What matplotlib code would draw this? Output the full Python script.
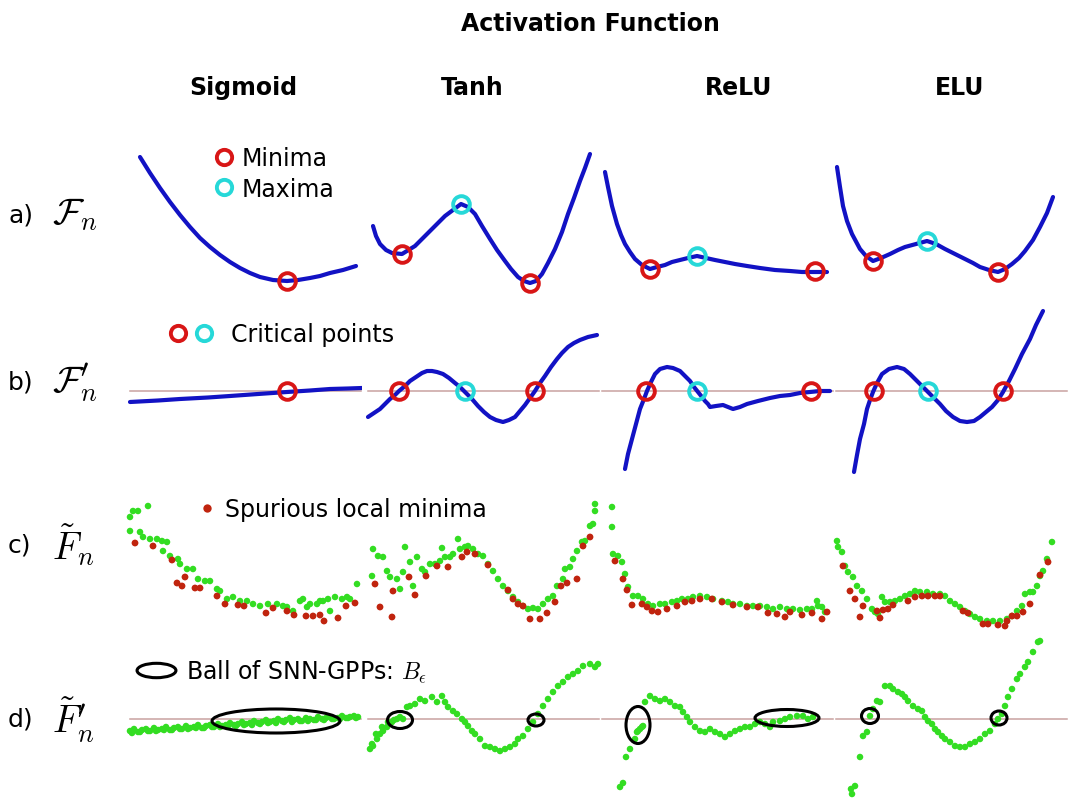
import matplotlib
matplotlib.use("Agg")
import matplotlib.pyplot as plt
from matplotlib.lines import Line2D
from matplotlib.patches import Ellipse
from matplotlib.legend_handler import HandlerTuple
from matplotlib.path import Path
from matplotlib.transforms import Affine2D

plt.rcParams["font.family"] = ["DejaVu Sans"]
plt.rcParams["mathtext.fontset"] = "cm"

W, H = 1076, 804
BLUE = "#1212c4"
RED = "#d81616"
CYAN = "#26d8d8"
GREEN = "#33dd22"
DRED = "#c0240e"
ZERO = "#c9a2a0"

COLUMNS = ["Sigmoid", "Tanh", "ReLU", "ELU"]
ROW_TAGS = ["a)", "b)", "c)", "d)"]
ROW_MATH = [r"$\mathcal{F}_n$", r"$\mathcal{F}^{\prime}_n$", r"$\tilde{F}_n$", r"$\tilde{F}^{\prime}_n$"]

# ---- row a: population risk F_n (curves + minima / maxima)
SIG_F_X = [12, 22, 32, 42, 52, 62, 72, 82, 92, 102, 112, 122, 132, 145, 159, 170, 182, 192, 202, 215, 228]
SIG_F_Y = [142, 126, 111, 97, 84, 72, 61, 52, 44, 37, 31, 26, 22, 19, 18, 19, 21, 23, 26, 29, 33]
SIG_F_MIN = ([159], [18])
SIG_F_MAX = ([], [])

TANH_F_X = [7, 10, 14, 20, 26, 36, 49, 64, 79, 95, 102, 109, 116, 124, 131, 139, 145, 152, 158, 164, 170, 176, 182, 189, 196, 202, 208, 214, 219, 224]
TANH_F_Y = [73, 63, 55, 49, 46, 45, 53, 68, 83, 95, 92, 85, 73, 60, 49, 38, 30, 22, 18, 16, 18, 25, 36, 50, 67, 85, 101, 118, 131, 145]
TANH_F_MIN = ([36, 164], [45, 16])
TANH_F_MAX = ([95], [95])

RELU_F_X = [5, 8, 12, 17, 21, 25, 30, 35, 42, 50, 57, 65, 72, 80, 88, 97, 106, 115, 125, 135, 147, 160, 175, 190, 202, 213, 227]
RELU_F_Y = [127, 112, 93, 75, 64, 55, 47, 40, 34, 30, 32, 34, 37, 39, 41, 43, 41, 39, 37, 35, 33, 31, 29, 28, 27, 27, 27]
RELU_F_MIN = ([50, 215], [30, 28])
RELU_F_MAX = ([97], [43])

ELU_F_X = [3, 6, 9, 13, 18, 26, 32, 39, 47, 56, 64, 71, 82, 93, 102, 111, 121, 131, 139, 146, 155, 164, 171, 178, 185, 191, 199, 206, 213, 219]
ELU_F_Y = [132, 112, 93, 78, 65, 50, 43, 38, 41, 45, 49, 52, 55, 58, 55, 50, 45, 40, 36, 32, 29, 27, 30, 35, 41, 48, 59, 72, 86, 102]
ELU_F_MIN = ([39, 164], [38, 27])
ELU_F_MAX = ([93], [58])

# ---- row b: derivative F'_n (zero crossings are the critical points)
SIG_D_X = [2, 30, 52, 80, 102, 130, 159, 182, 202, 220, 234]
SIG_D_Y = [-11, -9.5, -8, -6.5, -5, -3, -1, 0.5, 2, 2.5, 3]
SIG_D_RED = [159]
SIG_D_CYAN = []

TANH_D_X = [2, 8, 14, 19, 24, 29, 33, 39, 44, 50, 56, 61, 66, 71, 77, 83, 89, 94, 99, 106, 112, 118, 124, 130, 137, 143, 149, 154, 159, 164, 169, 174, 179, 185, 191, 196, 202, 208, 214, 222, 231]
TANH_D_Y = [-26, -22, -18, -13, -8, -4, 0, 5, 10, 14, 18, 20, 20, 19, 17, 13, 8, 4, -1, -8, -15, -21, -26, -29, -31, -29, -26, -20, -14, -7, 0, 8, 15, 24, 32, 38, 44, 48, 51, 54, 56]
TANH_D_RED = [33, 169]
TANH_D_CYAN = [99]

RELU_D_X = [25, 28, 32, 36, 40, 44, 47, 51, 55, 60, 67, 73, 80, 85, 90, 94, 98, 102, 105, 108, 110, 116, 123, 128, 133, 140, 147, 158, 170, 180, 190, 200, 210, 220, 230]
RELU_D_Y = [-78, -63, -48, -33, -18, -8, 0, 9, 17, 22, 24, 23, 20, 15, 10, 4, -1, -6, -10, -13, -16, -15, -14, -16, -18, -16, -13, -10, -7, -5, -4, -2, -1, 0, 0]
RELU_D_RED = [46, 211]
RELU_D_CYAN = [97]

ELU_D_X = [20, 23, 26, 30, 33, 36, 39, 43, 48, 55, 63, 70, 76, 81, 86, 90, 94, 100, 106, 112, 119, 126, 133, 140, 146, 152, 158, 164, 169, 175, 181, 188, 196, 202, 209]
ELU_D_Y = [-81, -64, -48, -33, -18, -9, -1, 8, 17, 22, 24, 22, 17, 12, 7, 3, -1, -7, -13, -20, -26, -30, -31, -30, -26, -21, -16, -9, -1, 10, 22, 37, 52, 66, 80]
ELU_D_RED = [40, 169]
ELU_D_CYAN = [94]

# ---- row c: empirical risk (green) and spurious local minima (red)
SIG_C_GX = [2, 5, 10, 20, 2, 12, 15, 22, 29, 34, 39, 35, 42, 50, 52, 59, 65, 70, 77, 82, 89, 92, 99, 105, 112, 119, 125, 132, 140, 149, 155, 159, 165, 172, 175, 179, 182, 189, 192, 195, 200, 202, 207, 214, 219, 222, 229]
SIG_C_GY = [112, 118, 118, 123, 98, 97, 92, 90, 90, 88, 87, 78, 73, 70, 65, 60, 60, 50, 48, 48, 40, 38, 30, 32, 28, 28, 25, 23, 25, 25, 23, 22, 18, 28, 30, 22, 25, 25, 28, 28, 30, 18, 32, 30, 32, 30, 45]
SIG_C_RX = [7, 25, 44, 57, 49, 54, 67, 72, 89, 97, 110, 116, 138, 145, 159, 166, 178, 185, 192, 196, 210, 218, 227]
SIG_C_RY = [86, 83, 69, 52, 46, 43, 41, 41, 33, 25, 24, 23, 16, 21, 18, 14, 13, 13, 14, 8, 11, 23, 26]

TANH_C_GX = [7, 12, 17, 6, 21, 24, 31, 34, 37, 39, 44, 47, 51, 56, 59, 64, 69, 74, 76, 79, 84, 87, 92, 94, 99, 102, 107, 112, 117, 122, 127, 132, 137, 142, 147, 152, 157, 162, 167, 172, 177, 182, 187, 191, 197, 199, 204, 207, 211, 216, 219, 224, 227, 229, 229]
TANH_C_GY = [80, 73, 72, 53, 58, 52, 50, 40, 57, 82, 67, 43, 72, 60, 57, 65, 65, 68, 81, 72, 72, 75, 90, 80, 82, 83, 80, 75, 73, 65, 58, 50, 43, 38, 32, 27, 23, 20, 21, 20, 25, 30, 33, 43, 50, 60, 62, 70, 78, 87, 88, 103, 105, 118, 125]
TANH_C_RX = [9, 14, 26, 27, 43, 49, 60, 71, 82, 96, 101, 109, 122, 142, 147, 152, 157, 164, 174, 181, 189, 195, 201, 211, 217, 224]
TANH_C_RY = [45, 22, 12, 38, 52, 34, 53, 63, 62, 72, 77, 75, 64, 39, 30, 25, 23, 10, 10, 16, 27, 43, 46, 50, 83, 92]

RELU_C_GX = [12, 12, 13, 18, 22, 25, 28, 33, 38, 43, 48, 53, 60, 65, 72, 77, 82, 88, 93, 100, 107, 113, 122, 128, 133, 140, 147, 153, 160, 167, 173, 180, 187, 193, 200, 207, 212, 217, 218, 222, 225]
RELU_C_GY = [122, 102, 75, 73, 67, 55, 42, 33, 33, 30, 25, 23, 25, 25, 27, 28, 30, 30, 32, 33, 32, 30, 28, 27, 25, 25, 23, 23, 23, 22, 20, 22, 20, 20, 19, 20, 20, 28, 23, 22, 17]
RELU_C_RX = [15, 23, 27, 32, 42, 47, 52, 58, 67, 77, 85, 92, 100, 112, 122, 133, 147, 158, 168, 177, 185, 190, 202, 212, 222, 227]
RELU_C_RY = [68, 50, 39, 24, 25, 22, 18, 17, 20, 23, 27, 28, 30, 30, 27, 24, 22, 22, 16, 15, 12, 17, 14, 16, 10, 17]

ELU_C_GX = [3, 4, 8, 11, 14, 19, 23, 28, 33, 38, 41, 44, 48, 51, 56, 61, 66, 71, 76, 81, 86, 93, 99, 106, 111, 116, 121, 126, 131, 136, 141, 146, 153, 159, 166, 173, 178, 183, 188, 191, 196, 199, 203, 206, 209, 213, 218]
ELU_C_GY = [88, 82, 77, 63, 57, 52, 43, 38, 30, 20, 17, 15, 32, 27, 27, 28, 30, 33, 35, 38, 37, 37, 35, 35, 33, 28, 25, 22, 18, 15, 12, 10, 8, 8, 8, 10, 13, 18, 23, 35, 37, 37, 43, 53, 58, 70, 87]
ELU_C_RX = [9, 16, 21, 26, 29, 43, 46, 49, 54, 59, 74, 81, 88, 94, 101, 106, 129, 134, 149, 154, 164, 171, 173, 178, 183, 189, 196, 206, 214]
ELU_C_RY = [63, 38, 30, 12, 23, 18, 11, 19, 20, 24, 28, 32, 33, 33, 33, 33, 18, 16, 5, 5, 4, 3, 8, 13, 13, 17, 25, 54, 67]

# ---- row d: empirical derivative (green) and balls of SNN-GPPs
SIG_E_X = [2, 6, 10, 14, 18, 22, 26, 30, 34, 38, 42, 46, 50, 54, 58, 62, 66, 70, 74, 78, 82, 86, 90, 94, 98, 102, 106, 110, 114, 118, 122, 126, 130, 134, 138, 142, 146, 150, 154, 158, 162, 166, 170, 174, 178, 182, 186, 190, 194, 198, 202, 206, 210, 214, 218, 222, 226, 230,
           4, 12, 20, 28, 36, 44, 52, 60, 68, 76, 84, 92, 100, 108, 116, 124, 132, 140, 148, 156, 164, 172, 180, 188, 196, 204, 212, 220, 228]
SIG_E_Y = [-12, -10, -13, -11, -10, -12, -9, -11, -10, -8, -11, -9, -8, -10, -7, -9, -8, -6, -9, -7, -6, -8, -5, -7, -6, -4, -6, -5, -3, -5, -4, -2, -4, -3, -1, -3, -2, 0, -2, -1, 1, -1, 0, -2, 1, 0, -1, 2, 0, 1, 2, 0, 1, 3, 1, 2, 3, 2,
           -14, -13, -12, -12, -11, -11, -10, -10, -9, -9, -8, -8, -7, -7, -6, -6, -5, -4, -4, -3, -3, -2, -2, -1, -1, 0, 0, 1, 1]
SIG_E_BALLS = [(148, -2, 128, 24)]

TANH_E_X = [4, 7, 11, 14, 17, 21, 26, 31, 37, 41, 44, 49, 54, 59, 66, 71, 76, 79, 82, 87, 91, 96, 99, 102, 106, 109, 114, 119, 124, 129, 134, 139, 144, 149, 152, 157, 162, 167, 172, 177, 182, 187, 192, 197, 202, 207, 212, 217, 224, 229, 232, 6, 10, 16, 22, 28, 34]
TANH_E_Y = [-30, -27, -20, -15, -12, -8, -3, 0, 0, 12, 13, 15, 20, 18, 22, 17, 23, 17, 12, 8, 5, 0, -3, -7, -12, -15, -20, -27, -28, -30, -32, -30, -28, -25, -20, -17, -10, -3, 5, 13, 20, 27, 33, 37, 42, 45, 48, 53, 55, 52, 55, -25, -15, -8, -3, -1, 2]
TANH_E_BALLS = [(34, -1, 25, 17), (170, -1, 16, 12)]

RELU_E_X = [20, 23, 26, 30, 35, 37, 38, 40, 42, 43, 45, 50, 55, 60, 65, 70, 75, 80, 83, 87, 90, 95, 100, 105, 110, 115, 120, 125, 130, 135, 140, 145, 150, 155, 160, 165, 170, 173, 180, 185, 190, 197, 203, 208, 213]
RELU_E_Y = [-68, -64, -38, -30, -20, -13, -12, -10, -8, -7, 17, 23, 20, 18, 20, 17, 13, 12, 7, 2, -3, -8, -12, -13, -10, -13, -15, -18, -15, -12, -10, -8, -8, -5, -3, -5, -8, -3, -2, 0, 2, 3, 3, 0, 2]
RELU_E_BALLS = [(38, -6, 24, 37), (187, 1, 64, 17)]

ELU_E_X = [17, 18, 21, 26, 29, 33, 36, 39, 43, 46, 51, 56, 59, 64, 68, 71, 74, 79, 84, 88, 91, 94, 98, 101, 104, 108, 111, 116, 121, 126, 131, 136, 141, 146, 151, 156, 161, 164, 168, 171, 174, 178, 183, 186, 191, 194, 199, 204, 206]
ELU_E_Y = [-70, -75, -67, -38, -17, -13, 3, 10, 18, 17, 33, 33, 30, 27, 25, 22, 18, 13, 10, 8, 2, -2, -5, -10, -13, -17, -20, -23, -27, -28, -28, -25, -23, -20, -15, -12, -5, 0, 5, 13, 22, 30, 40, 45, 52, 57, 67, 77, 78]
ELU_E_BALLS = [(36, 3, 17, 15), (165, 1, 16, 14)]

# panel boxes in the figure (pixels): column lefts, row top/bottom and value limits
COL_LEFT = [128, 366, 600, 834]
COL_W = 234
ROWS = [(145, 300, 0, 155), (305, 478, -86, 87), (495, 632, -2, 135), (635, 800, -80, 85)]

fig = plt.figure(figsize=(W / 100, H / 100), dpi=100)


def panel(r, c):
    top, bot, lo, hi = ROWS[r]
    ax = fig.add_axes([COL_LEFT[c] / W, 1 - bot / H, COL_W / W, (bot - top) / H])
    ax.set_xlim(0, COL_W)
    ax.set_ylim(lo, hi)
    ax.axis("off")
    return ax


def circles(ax, xs, ys, color):
    ax.plot(xs, ys, ls="none", marker="o", ms=12, mfc="none", mec=color,
            mew=2.8, zorder=5, clip_on=False)


row_a = [(SIG_F_X, SIG_F_Y, SIG_F_MIN, SIG_F_MAX), (TANH_F_X, TANH_F_Y, TANH_F_MIN, TANH_F_MAX),
         (RELU_F_X, RELU_F_Y, RELU_F_MIN, RELU_F_MAX), (ELU_F_X, ELU_F_Y, ELU_F_MIN, ELU_F_MAX)]
row_b = [(SIG_D_X, SIG_D_Y, SIG_D_RED, SIG_D_CYAN), (TANH_D_X, TANH_D_Y, TANH_D_RED, TANH_D_CYAN),
         (RELU_D_X, RELU_D_Y, RELU_D_RED, RELU_D_CYAN), (ELU_D_X, ELU_D_Y, ELU_D_RED, ELU_D_CYAN)]
row_c = [(SIG_C_GX, SIG_C_GY, SIG_C_RX, SIG_C_RY), (TANH_C_GX, TANH_C_GY, TANH_C_RX, TANH_C_RY),
         (RELU_C_GX, RELU_C_GY, RELU_C_RX, RELU_C_RY), (ELU_C_GX, ELU_C_GY, ELU_C_RX, ELU_C_RY)]
row_d = [(SIG_E_X, SIG_E_Y, SIG_E_BALLS), (TANH_E_X, TANH_E_Y, TANH_E_BALLS),
         (RELU_E_X, RELU_E_Y, RELU_E_BALLS), (ELU_E_X, ELU_E_Y, ELU_E_BALLS)]

axes = {}
for c in range(4):
    ax = panel(0, c)
    x, y, mins, maxs = row_a[c]
    ax.plot(x, y, color=BLUE, lw=3.0, solid_capstyle="round", solid_joinstyle="round")
    circles(ax, *mins, RED)
    circles(ax, *maxs, CYAN)
    axes[0, c] = ax

    ax = panel(1, c)
    x, y, reds, cyans = row_b[c]
    ax.axhline(0, xmin=0.01, xmax=0.995, color=ZERO, lw=1.1, zorder=1)
    ax.plot(x, y, color=BLUE, lw=3.0, solid_capstyle="round", solid_joinstyle="round", zorder=2)
    circles(ax, reds, [0] * len(reds), RED)
    circles(ax, cyans, [0] * len(cyans), CYAN)
    axes[1, c] = ax

    ax = panel(2, c)
    gx, gy, rx, ry = row_c[c]
    ax.scatter(gx, gy, s=22, color=GREEN, edgecolors="none", zorder=2, clip_on=False)
    ax.scatter(rx, ry, s=24, color=DRED, edgecolors="none", zorder=3, clip_on=False)
    axes[2, c] = ax

    ax = panel(3, c)
    x, y, balls = row_d[c]
    ax.axhline(0, xmin=0.01, xmax=0.995, color=ZERO, lw=1.1, zorder=1)
    ax.scatter(x, y, s=22, color=GREEN, edgecolors="none", zorder=2, clip_on=False)
    for bx, by, bw, bh in balls:
        ax.add_patch(Ellipse((bx, by), bw, bh, fill=False, ec="black", lw=2.2, zorder=4))
    axes[3, c] = ax

# titles and row labels
fig.text(590 / W, 1 - 24 / H, "Activation Function", ha="center", va="center",
         fontsize=17, fontweight="bold")
for c, (name, cx) in enumerate(zip(COLUMNS, [243, 472, 739, 960])):
    fig.text(cx / W, 1 - 88 / H, name, ha="center", va="center", fontsize=17, fontweight="bold")
for tag, expr, cy in zip(ROW_TAGS, ROW_MATH, [215, 383, 545, 720]):
    fig.text(8 / W, 1 - cy / H, tag, ha="left", va="center", fontsize=18)
    fig.text(52 / W, 1 - cy / H, expr, ha="left", va="center", fontsize=27)

# legends
leg_kw = dict(frameon=False, borderpad=0, borderaxespad=0, fontsize=17,
              bbox_transform=fig.transFigure)
red_o = Line2D([], [], ls="none", marker="o", ms=11, mfc="none", mec=RED, mew=2.8)
cyan_o = Line2D([], [], ls="none", marker="o", ms=11, mfc="none", mec=CYAN, mew=2.8)
axes[0, 0].legend([red_o, cyan_o], ["Minima", "Maxima"], loc="upper left",
                  bbox_to_anchor=(212 / W, 1 - 147 / H), handlelength=1.0,
                  handletextpad=0.25, labelspacing=0.28, **leg_kw)
axes[1, 0].legend([(red_o, cyan_o)], ["Critical points"], loc="center left",
                  bbox_to_anchor=(165 / W, 1 - 335 / H), handlelength=2.2,
                  handletextpad=0.6, handler_map={tuple: HandlerTuple(ndivide=None, pad=0)},
                  **leg_kw)
red_dot = Line2D([], [], ls="none", marker="o", ms=6, color=DRED, mec="none")
axes[2, 0].legend([red_dot], ["Spurious local minima"], loc="center left",
                  bbox_to_anchor=(195 / W, 1 - 510 / H), handlelength=1.0,
                  handletextpad=0.27, **leg_kw)
ell = Path.unit_circle().transformed(Affine2D().scale(2.7, 1))
ball = Line2D([], [], ls="none", marker=ell, ms=28, mfc="none", mec="black", mew=2.2)
axes[3, 0].legend([ball], [r"Ball of SNN-GPPs: $B_\epsilon$"], loc="center left",
                  bbox_to_anchor=(132 / W, 1 - 672 / H), handlelength=2.0,
                  handletextpad=0.3, **leg_kw)

fig.savefig("out.png", dpi=100, facecolor="white")
